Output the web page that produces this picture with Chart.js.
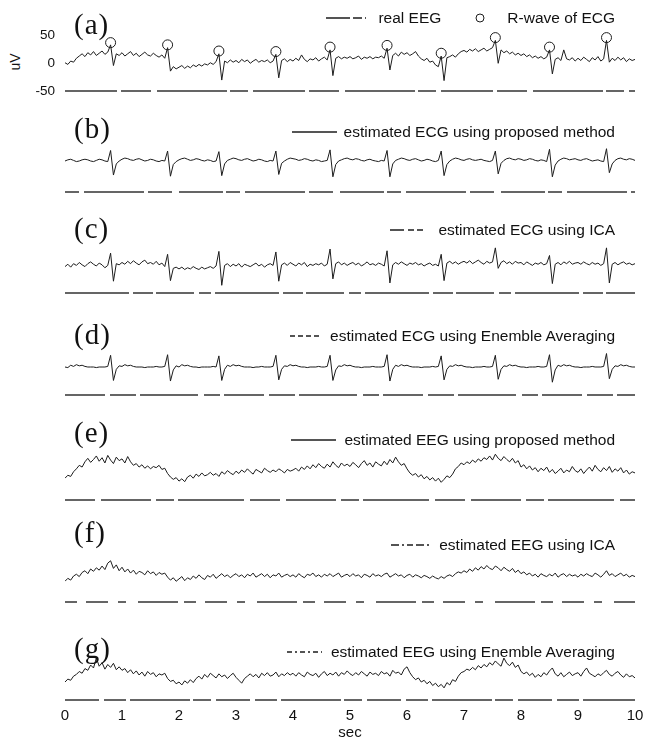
<!DOCTYPE html>
<html>
<head>
<meta charset="utf-8">
<title>EEG / ECG separation</title>
<script src="https://cdn.jsdelivr.net/npm/chart.js@4.4.1/dist/chart.umd.min.js"></script>
<style>
  html, body { margin: 0; padding: 0; background: #fff; }
  #fig { position: relative; width: 654px; height: 740px; overflow: hidden;
         font-family: 'Liberation Sans', Arial, sans-serif; color: #111; }
  #fig canvas { position: absolute; left: 0; }
  .tag { position: absolute; left: 74px; font-family: 'Liberation Serif', 'Times New Roman', serif;
         font-size: 29px; line-height: 29px; letter-spacing: 1px; }
  .legend { position: absolute; right: 39px; height: 16px; display: flex; align-items: center;
            font-size: 15.5px; line-height: 16px; white-space: nowrap; }
  .legend svg { display: block; }
  #ylab { position: absolute; left: 0; top: 54px; width: 30px; height: 16px; line-height: 16px;
          text-align: center; font-size: 14px; transform: rotate(-90deg); }
</style>
</head>
<body>
<div id="fig"><div id="ylab">uV</div></div>
<script>
/* =============================================
   Real EEG vs. estimated ECG / EEG – 7 stacked traces
   ============================================= */

// ---- data (uV), one sample every DT seconds -------------------------
const DT = 0.05;
const X_TICKS = [0, 1, 2, 3, 4, 5, 6, 7, 8, 9, 10];
const Y_TICKS_A = [-50, 0, 50];

// R-wave markers in (a)
const R_WAVE_T = [0.80, 1.80, 2.70, 3.70, 4.65, 5.65, 6.60, 7.55, 8.50, 9.50];
const R_WAVE_V = [37, 33, 22, 21, 29, 32, 18, 46, 29, 46];

const realEEG = [
  1, -2, 4, 2, 9, 13, 17, 12, 19, 15, 21, 14, 18, 22, 16, 20, 33, -4, 17, 14,
  19, 13, 17, 21, 14, 18, 12, 16, 20, 15, 13, 18, 14, 11, 15, 9, 28, -14, -6, -10,
  -7, -4, -9, -5, -8, -3, -6, -2, -5, -1, -3, 1, -2, 3, 17, -30, 4, 1, 6, 2,
  5, 1, 7, 3, 6, 0, 4, 7, 2, 5, 3, 6, 1, 4, 16, -26, 5, 8, 3, 7,
  4, 9, 5, 15, 7, 3, 8, 6, 10, 4, 8, 11, 6, 24, -22, 9, 12, 8, 11, 9,
  12, 8, 10, 13, 7, 11, 9, 12, 8, 11, 10, 13, 9, 27, -12, 14, 18, 13, 20, 16,
  19, 14, 17, 21, 13, 8, 5, 9, 2, 4, -3, -6, 13, -31, 10, 12, 15, 11, 17, 21,
  23, 20, 25, 22, 26, 21, 24, 27, 22, 25, 28, 41, 0, 24, 19, 22, 17, 20, 15, 18,
  14, 17, 12, 15, 10, 13, 9, 12, 8, 11, 24, -19, 7, 10, 5, 24, 8, 6, 10, 4,
  9, 5, 11, 7, 3, 10, 6, 12, 4, 8, 41, 2, 9, 5, 11, 6, 10, 3, 8, 5, 7
];

const ecgProposed = [
  0, 2, 3, 1, -1, 0, 2, 3, 2, 0, -1, 1, 3, 2, 0, -1, 18, -24, -5, 0,
  3, 5, 4, 2, 1, 3, 4, 2, 0, 1, 3, 2, 0, -1, 1, 0, 17, -26, -6, -1,
  2, 4, 5, 3, 1, 2, 4, 3, 1, 0, 2, 1, -1, 0, 16, -25, -5, 1, 3, 5,
  4, 2, 1, 3, 4, 2, 0, 1, 3, 2, 0, -1, 1, 0, 17, -23, -4, 0, 3, 5,
  4, 3, 1, 2, 4, 3, 1, 0, 2, 1, -1, 0, 1, 19, -27, -6, 0, 2, 4, 5,
  3, 2, 4, 3, 1, 0, 2, 3, 1, 0, -1, 1, 0, 18, -27, -5, 1, 3, 5, 4,
  2, 1, 3, 4, 2, 0, 1, 3, 2, 0, -1, 1, 17, -25, -6, 0, 3, 5, 4, 2,
  1, 3, 4, 2, 1, 2, 3, 1, 0, -1, 1, 17, -22, -4, 1, 4, 5, 3, 2, 4,
  3, 1, 2, 4, 3, 1, 0, 2, 1, -1, 20, -27, -7, 0, 3, 5, 4, 2, 3, 4,
  2, 1, 3, 4, 2, 0, 1, 2, 0, -1, 21, -20, -5, 1, 4, 5, 3, 2, 4, 3, 1
];

const ecgICA = [
  -1, 3, -2, 4, 1, 6, 2, -1, 4, 7, 3, 0, 5, 2, -3, 1, 22, -26, 4, 2,
  6, 3, 8, 4, 9, 5, 2, 7, 10, 4, 6, 3, 8, 2, 5, -1, 20, -25, -4, -2,
  -5, -2, -6, -3, -5, -1, -4, -6, -2, -5, -3, -1, -4, 0, 25, -33, 1, 4, -1, 3,
  0, 4, -2, 3, 1, -1, 2, 5, 0, 3, -2, 2, 4, 1, 24, -26, 2, 5, 1, 6,
  3, 0, 5, 2, 6, -1, 3, 1, 4, 2, 5, 0, 3, 29, -22, 4, 7, 2, 5, 1,
  4, 6, 2, 5, 0, 3, 7, 2, 4, 1, 5, 3, 0, 26, -29, 2, 6, 3, 7, 4,
  1, 5, 3, 6, 2, 4, 0, 3, 5, 1, 3, 0, 20, -25, 5, 8, 4, 7, 3, 6,
  8, 5, 9, 4, 7, 10, 6, 3, 8, 5, 7, 31, -4, 6, 9, 4, 7, 3, 8, 5,
  6, 2, 7, 4, 1, 5, 3, 6, 2, 4, 18, -30, 3, 6, 2, 7, 4, 8, 3, 5,
  6, 3, 7, 4, 2, 6, 3, 5, 1, 4, 31, -29, 3, 6, 2, 5, 7, 3, 5, 2, 4
];

const ecgEnsemble = [
  0, -1, 3, 1, 4, 2, 3, 1, 0, 0, 0, -1, 0, 0, 0, 1, 20, -23, -4, 2,
  1, 4, 2, 3, 1, 0, 0, 0, -1, 0, 0, 0, 1, 0, 0, 1, 21, -24, -5, 2,
  0, 4, 2, 3, 1, 0, 0, -1, 0, 0, 0, 0, 1, 0, 19, -23, -4, 3, 1, 4,
  2, 3, 1, 0, 0, 0, -1, 0, 0, 1, 0, 0, 0, 1, 20, -22, -4, 2, 1, 4,
  2, 3, 1, 0, 0, -1, 0, 0, 0, 1, 0, 0, 1, 20, -23, -5, 2, 1, 4, 2,
  3, 1, 0, 0, -1, 0, 0, 0, 1, 0, 0, 0, 1, 21, -24, -4, 3, 1, 4, 2,
  3, 1, 0, 0, 0, -1, 0, 0, 0, 1, 0, 1, 19, -22, -4, 2, 1, 4, 2, 3,
  1, 0, 0, -1, 0, 0, 0, 1, 0, 0, 1, 20, -21, -4, 2, 1, 4, 2, 3, 1,
  0, 0, -1, 0, 0, 0, 1, 0, 0, 1, 21, -26, -5, 3, 1, 4, 2, 3, 1, 0,
  0, -1, 0, 0, 0, 1, 0, 0, 0, 1, 23, -20, -4, 2, 1, 4, 2, 3, 1, 0, 0
];

const eegProposed = [
  -14, -9, -11, -3, 2, 8, 5, 14, 20, 13, 18, 24, 15, 21, 12, 25, 17, 11, 22, 16,
  19, 12, 23, 14, 8, 11, 5, 9, 3, 7, 2, 6, 4, 8, 1, 3, -6, -12, -16, -13,
  -19, -15, -20, -12, -9, -14, -7, -11, -5, -10, -8, -4, -9, -6, -11, -3, -7, -1, -5, -8,
  -2, -6, 0, -4, 2, -3, -7, 1, -2, -5, 3, -1, -4, 0, -3, 2, -1, -5, 1, -2,
  0, 3, -2, 5, 1, 7, 2, 9, 4, 11, 6, 3, 10, 5, 14, 8, 4, 12, 7, 10,
  6, 13, 9, 4, 11, 16, 8, 12, 5, 14, 10, 7, 15, 9, 18, 12, 22, 14, 8, 11,
  2, -5, -9, -6, -12, -8, -15, -11, -17, -13, -19, -14, -21, -16, -10, -13, -7, 2, 6, 12,
  9, 14, 11, 17, 13, 19, 15, 21, 18, 24, 17, 27, 20, 16, 23, 18, 14, 20, 12, 16,
  5, 9, 2, 7, 0, 4, -3, 3, -1, 5, -4, 1, -6, -2, 3, -5, 0, -3, 6, -1,
  -4, 2, -6, 0, 5, -2, 8, 1, -3, 4, -1, 6, -4, 2, -2, 4, -5, 0, -7, -3, -5
];

const eegICA = [
  -9, -4, -7, 0, 3, -1, 6, 9, 4, 12, 8, 14, 10, 17, 11, 22, 26, 13, 19, 9,
  15, 7, 12, 5, 10, 3, 8, 6, 2, 9, 4, 7, 1, 6, 3, 5, -2, -7, -3, -9,
  -5, -1, -8, -3, -6, 0, -4, 2, -3, -6, 1, -2, 3, -4, 0, 4, -1, 2, -3, 1,
  4, -1, 2, -3, 3, 0, 5, -2, 1, 4, -1, 3, -3, 2, 0, 5, -2, 1, 3, -1,
  2, -2, 4, 0, -3, 3, 1, 5, -1, 2, -2, 3, 0, 4, -1, 2, 5, -2, 1, 3,
  -1, 4, 0, 2, -3, 3, 1, -2, 4, 0, 2, -1, 3, 5, -2, 1, 4, 0, 2, -3,
  1, 3, -2, 2, 0, -3, 1, -1, -4, 0, -3, -5, -1, -4, 0, 2, -1, 4, 7, 5,
  9, 6, 12, 8, 14, 10, 16, 12, 18, 13, 11, 17, 14, 9, 15, 11, 8, 13, 6, 10,
  4, 7, 2, 5, 0, 3, -2, 4, 1, -1, 3, 0, 5, -2, 2, 4, -1, 3, 0, 2,
  -2, 3, 0, 4, 1, -1, 5, 2, -2, 3, 9, 1, 4, -1, 2, 5, 0, 3, -2, 1, -1
];

const eegEnsemble = [
  -12, -7, -9, -2, 1, 6, 3, 11, 8, 17, 12, 29, 15, 21, 10, 18, 13, 20, 9, 14,
  8, 11, 4, 9, 2, 7, 0, 5, -2, 6, 1, 4, -3, 2, 0, 3, -6, -11, -9, -15,
  -12, -17, -10, -14, -8, -13, -6, -2, -7, 1, -4, 3, -1, -5, 2, -3, 0, -6, -1, 3,
  -4, -9, -14, -6, -2, 2, -3, 1, -5, 3, -1, 4, -2, 0, 5, -3, 2, -1, 4, 0,
  3, -2, 4, 0, -3, 5, 1, -1, 3, -4, 2, 6, -1, 3, 0, 5, -2, 4, 1, 7,
  2, -1, 4, 0, 6, 2, -2, 5, 1, 3, -1, 6, 2, 4, -2, 8, 3, 5, 0, 10,
  14, 4, -3, -8, -5, -12, -9, -15, -11, -18, -14, -20, -16, -22, -13, -17, -8, -11, -2, 4,
  6, 10, 8, 13, 9, 16, 12, 18, 14, 21, 17, 24, 19, 15, 29, 20, 16, 22, 13, 17,
  6, 2, 5, -1, 3, -4, 1, -3, 4, 0, 7, 12, 2, -2, 4, -3, 1, 5, -1, 2,
  4, -2, 6, 12, 3, 0, -3, 2, -1, 4, 8, 1, -2, 3, 6, 0, -4, 2, -3, -1, -5
];

// ---- layout ---------------------------------------------------------
const W = 654;
const LEFT = 65, RIGHT = 635;   // x = 0 s and x = 10 s
const K = 0.585;                // px per uV, same in every panel
const AREA_TOP = 2;
const INK = '#1c1c1c';

const PANELS = [
  { tag: '(a)', top: 0,   h: 100, zero: 62,  line: 91,  tagY: 24,  legY: 18,  series: realEEG, yTicks: true, rwave: true,
    dash: [52, 4, 30, 6, 70, 3, 18, 5],
    legend: [{ dash: '24 3 9 3', w: 40, gap: 12, text: 'real EEG' }, { circle: true, pre: 34, gap: 22, text: 'R-wave of ECG' }] },
  { tag: '(b)', top: 100, h: 100, zero: 161, line: 192, tagY: 128, legY: 132, series: ecgProposed,
    dash: [14, 5, 60, 4, 24, 7, 44, 3],
    legend: [{ dash: '', w: 45, gap: 7, text: 'estimated ECG using proposed method' }] },
  { tag: '(c)', top: 200, h: 100, zero: 266, line: 293, tagY: 228, legY: 230, series: ecgICA,
    dash: [64, 4, 20, 3, 38, 5, 12, 4],
    legend: [{ dash: '14 4 6 3 6', w: 35, gap: 13, text: 'estimated ECG using ICA' }] },
  { tag: '(d)', top: 300, h: 105, zero: 367, line: 395, tagY: 334, legY: 336, series: ecgEnsemble,
    dash: [40, 5, 26, 4, 58, 6, 16, 4],
    legend: [{ dash: '5 3', w: 31, gap: 9, text: 'estimated ECG using Enemble Averaging' }] },
  { tag: '(e)', top: 405, h: 105, zero: 470, line: 500, tagY: 432, legY: 440, series: eegProposed,
    dash: [30, 6, 50, 5, 18, 4, 66, 6],
    legend: [{ dash: '', w: 45, gap: 8, text: 'estimated EEG using proposed method' }] },
  { tag: '(f)', top: 510, h: 100, zero: 576, line: 602, tagY: 532, legY: 545, series: eegICA,
    dash: [12, 9, 22, 10, 8, 12, 40, 6],
    legend: [{ dash: '8 3 2 3 6 3', w: 38, gap: 10, text: 'estimated EEG using ICA' }] },
  { tag: '(g)', top: 610, h: 130, zero: 675, line: 700, tagY: 648, legY: 652, series: eegEnsemble, xTicks: true,
    dash: [34, 5, 22, 4, 60, 3, 18, 5],
    legend: [{ dash: '5 3 2 3', w: 35, gap: 9, text: 'estimated EEG using Enemble Averaging' }] }
];

Chart.defaults.font.family = "'Liberation Sans', Arial, sans-serif";
Chart.defaults.color = '#111';

// the scanned axis lines are broken, draw them dashed along the chart bottom
const brokenAxis = {
  id: 'brokenAxis',
  afterDatasetsDraw(chart, args, opts) {
    const { ctx, chartArea: a } = chart;
    ctx.save();
    ctx.strokeStyle = opts.color;
    ctx.lineWidth = opts.width;
    ctx.setLineDash(opts.dash);
    ctx.beginPath();
    ctx.moveTo(a.left, a.bottom);
    ctx.lineTo(a.right, a.bottom);
    ctx.stroke();
    ctx.restore();
  }
};

const fig = document.getElementById('fig');

function legendHTML(items) {
  return items.map(it => {
    let mark;
    if (it.circle) {
      mark = `<svg width="10" height="10" style="margin-left:${it.pre}px"><circle cx="5" cy="5" r="4" fill="none" stroke="${INK}" stroke-width="1"/></svg>`;
    } else {
      mark = `<svg width="${it.w}" height="4"><line x1="0" y1="2" x2="${it.w}" y2="2" stroke="${INK}" stroke-width="1.3" stroke-dasharray="${it.dash}"/></svg>`;
    }
    return `${mark}<span style="margin-left:${it.gap}px">${it.text}</span>`;
  }).join('');
}

function buildPanel(p) {
  const cv = document.createElement('canvas');
  cv.width = W;
  cv.height = p.h;
  cv.style.top = p.top + 'px';
  fig.appendChild(cv);

  const tag = document.createElement('div');
  tag.className = 'tag';
  tag.style.top = (p.tagY - 14) + 'px';
  tag.textContent = p.tag;
  fig.appendChild(tag);

  const leg = document.createElement('div');
  leg.className = 'legend';
  leg.style.top = (p.legY - 8) + 'px';
  leg.innerHTML = legendHTML(p.legend);
  fig.appendChild(leg);

  const lineY = p.line - p.top;
  const zeroY = p.zero - p.top;

  const datasets = [{
    data: p.series.map((v, i) => ({ x: i * DT, y: v })),
    borderColor: INK,
    borderWidth: 1,
    pointRadius: 0,
    tension: 0
  }];
  if (p.rwave) {
    datasets.push({
      data: R_WAVE_T.map((t, i) => ({ x: t, y: R_WAVE_V[i] })),
      showLine: false,
      pointRadius: 5,
      pointBorderWidth: 1,
      pointBorderColor: INK,
      pointBackgroundColor: 'rgba(0,0,0,0)'
    });
  }

  const xScale = {
    type: 'linear', min: 0, max: 10,
    grid: { display: false, drawTicks: false },
    border: { display: false },
    ticks: { display: false }
  };
  if (p.xTicks) {
    xScale.ticks = { display: true, font: { size: 15 }, color: '#111', padding: 7, maxRotation: 0 };
    xScale.afterBuildTicks = s => { s.ticks = X_TICKS.map(v => ({ value: v })); };
    xScale.title = { display: true, text: 'sec', font: { size: 15, lineHeight: 1 }, color: '#111', padding: { top: 0, bottom: 0 } };
    xScale.afterFit = s => { s.height = p.h - lineY; s.paddingLeft = 0; s.paddingRight = 0; };
  }

  // y scale box is always LEFT px wide, shown with ticks only in (a)
  const yScale = {
    display: !!p.yTicks,
    min: -(lineY - zeroY) / K,
    max: (zeroY - AREA_TOP) / K,
    grid: { display: false, drawTicks: false },
    border: { display: false },
    ticks: { font: { size: 13.5 }, color: '#111', padding: 10 },
    afterBuildTicks: s => { s.ticks = Y_TICKS_A.map(v => ({ value: v })); },
    afterFit: s => { s.width = LEFT; s.paddingTop = 0; s.paddingBottom = 0; }
  };

  new Chart(cv, {
    type: 'line',
    data: { datasets },
    options: {
      responsive: false,
      animation: false,
      devicePixelRatio: 1,
      layout: {
        padding: {
          left: 0,
          right: W - RIGHT,
          top: AREA_TOP,
          bottom: p.xTicks ? 0 : p.h - lineY
        }
      },
      plugins: {
        legend: { display: false },
        tooltip: { enabled: false },
        brokenAxis: { color: '#333', width: 1.6, dash: p.dash }
      },
      scales: { x: xScale, y: yScale }
    },
    plugins: [brokenAxis]
  });
}

PANELS.forEach(buildPanel);
</script>
</body>
</html>
